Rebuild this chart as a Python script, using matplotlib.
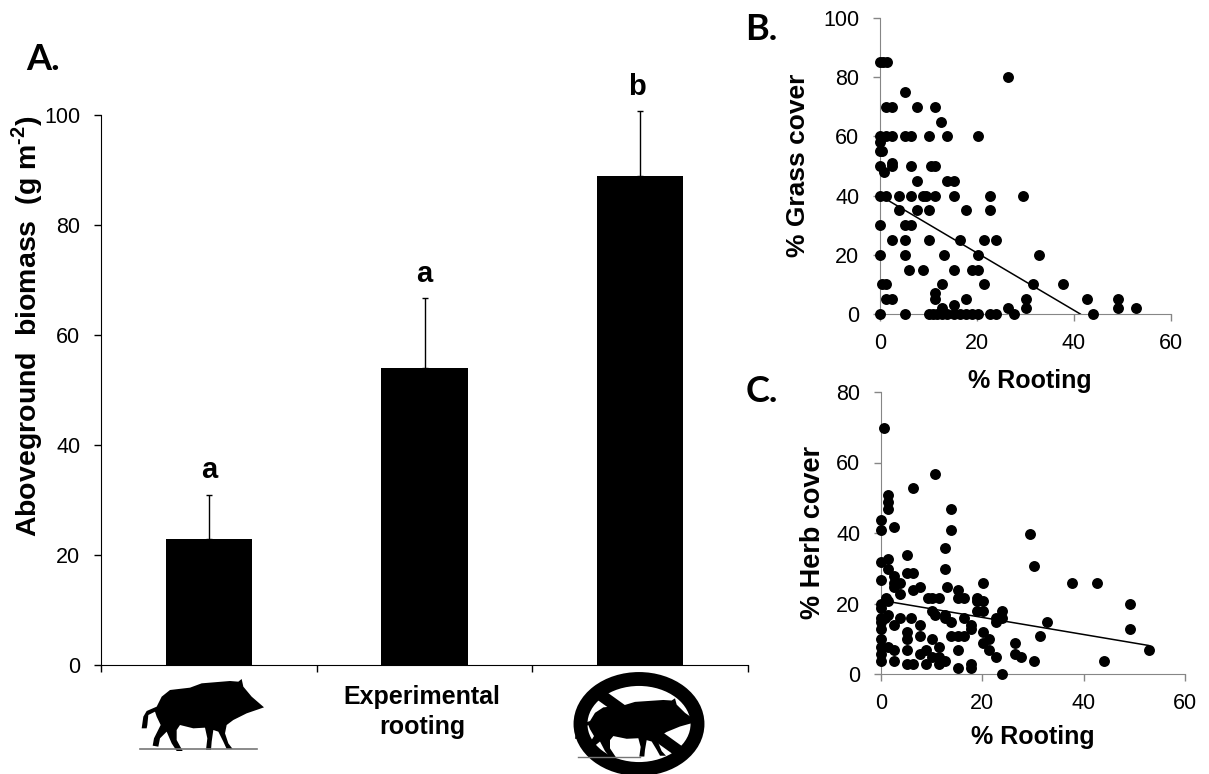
import numpy as np
import matplotlib
matplotlib.use('Agg')
import matplotlib.pyplot as plt
from matplotlib.patches import Polygon, Ellipse

plt.rcParams['font.family'] = ['Liberation Sans', 'DejaVu Sans']
plt.rcParams['mathtext.fontset'] = 'custom'
plt.rcParams['mathtext.bf'] = 'Liberation Sans:bold'
plt.rcParams['mathtext.rm'] = 'Liberation Sans:bold'

# panel A
bar_values = [23, 54, 89]
bar_errors = [8, 12.7, 11.7]
bar_letters = ['a', 'a', 'b']
bar_yticks = [0, 20, 40, 60, 80, 100]

# panel B, read row by row
grass_x = [0, 0.7, 1.5, 26.4, 5.1, 1.3, 2.5, 7.6, 11.4, 12.6,
           0, 1.3, 2.5, 5.1, 6.3, 10.1, 13.9, 20.2, 0, 0, 0.4,
           0, 2.5, 2.5, 6.3, 10.6, 11.4, 0.8, 7.6, 13.9, 15.2,
           0, 1.3, 3.9, 6.3, 8.9, 9.4, 11.4, 15.2, 22.6, 29.5,
           3.9, 7.6, 10.1, 17.7, 22.6, 0, 5.1, 6.3,
           2.5, 5.1, 10.1, 16.4, 21.4, 23.9, 0, 5.1, 13.1, 20.2, 32.8,
           5.9, 8.9, 15.2, 18.9, 20.2, 0.5, 1.3, 12.7, 21.4, 31.5, 37.7,
           11.4, 1.3, 2.5, 11.4, 17.7, 30.2, 42.7, 49, 15.2, 12.7,
           26.4, 30.2, 49, 52.8,
           0, 5.1, 10.1, 10.9, 11.8, 12.7, 13.9, 15.2, 16.4, 17.7, 18.9, 20.2,
           22.6, 23.9, 27.7, 44]
grass_y = [85, 85, 85, 80, 75, 70, 70, 70, 70, 65,
           60, 60, 60, 60, 60, 60, 60, 60, 58, 55, 55,
           50, 50, 51, 50, 50, 50, 48, 45, 45, 45,
           40, 40, 40, 40, 40, 40, 40, 40, 40, 40,
           35, 35, 35, 35, 35, 30, 30, 30,
           25, 25, 25, 25, 25, 25, 20, 20, 20, 20, 20,
           15, 15, 15, 15, 15, 10, 10, 10, 10, 10, 10,
           7, 5, 5, 5, 5, 5, 5, 5, 3, 2,
           2, 2, 2, 2,
           0, 0, 0, 0, 0, 0, 0, 0, 0, 0, 0, 0,
           0, 0, 0, 0]
grass_line_x = [0, 41.3]
grass_line_y = [40, 0]

# panel C
herb_x = [0.5, 10.6, 6.3, 1.3, 1.3, 1.3, 13.9, 0, 0, 2.6, 13.9, 29.4, 12.6, 5.1,
          1.3, 0, 1.3, 12.6, 30.2, 5.1, 6.3, 2.6, 0, 3.8, 2.6, 2.6, 20.2, 37.7, 42.7,
          7.6, 6.3, 13.1, 15.2, 3.8, 9.3, 10.1, 11.4, 15.2, 16.4, 18.9, 18.9, 20.2,
          0.9, 1.3, 0, 0, 49.1, 10.1, 10.6, 18.9, 20.2, 23.9, 12.6, 12.6, 1.3, 0, 0.7,
          3.8, 5.9, 16.4, 22.7, 23.9, 13.9, 22.7, 32.7, 0, 2.6, 7.6, 17.7, 17.7, 0, 49.1,
          5.1, 20.2, 13.9, 15.2, 16.4, 5.1, 7.6, 31.4, 0, 10.1, 21.4, 20.2, 26.4,
          0, 1.3, 11.4, 2.6, 5.1, 8.9, 15.2, 21.4, 0, 7.6, 26.4,
          10.1, 11.4, 22.7, 27.7, 0, 2.6, 12.6, 30.2, 44, 11.4, 5.1, 6.3, 8.9,
          17.7, 17.7, 15.2, 23.9, 52.8]
herb_y = [69.7, 56.6, 52.8, 50.7, 48.7, 46.7, 46.7, 43.8, 40.8, 41.7, 40.8, 39.7, 35.7, 33.8,
          32.7, 31.8, 29.9, 29.7, 30.7, 28.7, 28.7, 27.8, 26.8, 25.8, 25.8, 24.8, 25.8, 25.8, 25.8,
          24.8, 23.7, 24.8, 23.7, 22.8, 21.7, 21.7, 21.7, 21.7, 21.7, 21.7, 20.8, 20.8,
          21.7, 20.8, 19.8, 18.8, 19.8, 17.9, 16.8, 17.9, 17.9, 17.9, 16.8, 15.9, 16.8, 15.9, 15.9,
          15.9, 15.9, 15.9, 15.9, 15.9, 14.8, 14.8, 14.8, 14.8, 13.8, 13.8, 13.8, 12.8, 12.8, 12.8,
          11.8, 11.8, 10.8, 10.8, 10.8, 9.8, 10.8, 10.8, 9.8, 9.8, 9.8, 8.8, 8.8,
          7.8, 7.8, 7.8, 6.8, 6.8, 6.8, 6.8, 6.8, 5.8, 5.8, 5.8,
          4.8, 4.8, 4.8, 4.8, 3.7, 3.7, 3.7, 3.7, 3.7, 2.7, 2.7, 2.7, 2.7,
          2.7, 1.8, 1.8, 0, 6.8]
herb_line_x = [0, 52.8]
herb_line_y = [20.9, 8.1]

# boar outline, traced in pixels of a crop
boar = [(35, 160), (40, 125), (50, 108), (80, 95), (95, 65), (120, 45), (180, 38), (215, 25),
        (300, 18), (325, 20), (335, 12), (340, 35), (365, 65), (402, 97), (385, 103), (350, 115),
        (310, 135), (290, 150), (285, 175), (295, 205), (308, 222), (290, 222), (280, 200),
        (265, 170), (250, 165), (245, 200), (243, 225), (228, 225), (232, 190), (225, 158),
        (190, 160), (150, 150), (140, 165), (140, 195), (158, 228), (140, 228), (125, 205),
        (110, 170), (90, 190), (85, 215), (68, 212), (72, 190), (92, 150), (80, 125), (75, 110),
        (55, 120), (52, 150), (50, 160)]

W, H = 1209, 774


def ax_px(left, top, right, bottom):
    return fig.add_axes([left / W, 1 - bottom / H, (right - left) / W, (bottom - top) / H])


fig = plt.figure(figsize=(W / 100, H / 100), dpi=100)

# A
ax = ax_px(101, 115, 748, 665)
xpos = np.arange(3) + 0.5
ax.bar(xpos, bar_values, width=0.4, color='black')
ax.errorbar(xpos, bar_values, yerr=[[0, 0, 0], bar_errors], fmt='none', ecolor='black',
            elinewidth=1, capsize=2.5, capthick=1, clip_on=False)
for x, v, e, s in zip(xpos, bar_values, bar_errors, bar_letters):
    ax.text(x - (0.015 if s == 'b' else 0), v + e + 1.9, s, ha='center', va='bottom', fontsize=21,
            fontweight='bold', clip_on=False)
ax.set_xlim(0, 3)
ax.set_ylim(0, 100)
ax.set_xticks([0, 1, 2, 3])
ax.set_xticklabels([])
ax.set_yticks(bar_yticks)
ax.tick_params(axis='y', labelsize=15.5, length=5, width=1, pad=10)
ax.tick_params(axis='x', length=5, width=1)
ax.spines[['top', 'right']].set_visible(False)
fig.text(27 / W, 1 - 326 / H, 'Aboveground  biomass  (g m$^{\\mathbf{\u20102}}$)', rotation=90,
         ha='center', va='center', fontsize=20.5, fontweight='bold')
fig.text(422 / W, 1 - 712 / H, 'Experimental\nrooting', ha='center', va='center', fontsize=18,
         fontweight='bold', linespacing=1.3)


def scatter_panel(box, xs, ys, lx, ly, ymax, ystep):
    a = ax_px(*box)
    a.scatter(xs, ys, s=62, color='black', linewidths=0, clip_on=False, zorder=3)
    a.plot(lx, ly, color='black', lw=1.1, zorder=4)
    a.set_xlim(0, 60)
    a.set_ylim(0, ymax)
    a.set_xticks([0, 20, 40, 60])
    a.set_yticks(np.arange(0, ymax + 1, ystep))
    a.tick_params(labelsize=15.5, length=5, width=1, color='#868686', pad=10)
    a.tick_params(axis='x', pad=9)
    a.spines[['top', 'right']].set_visible(False)
    a.spines[['left', 'bottom']].set_color('#868686')
    a.patch.set_alpha(0)
    return a


scatter_panel((880, 18, 1171, 314), grass_x, grass_y, grass_line_x, grass_line_y, 100, 20)
scatter_panel((881, 392, 1185, 674), herb_x, herb_y, herb_line_x, herb_line_y, 80, 20)

for x, y, s, rot, size in [(1030, 381, '% Rooting', 0, 18), (798, 165, '% Grass cover', 90, 19),
                           (1033, 737, '% Rooting', 0, 18), (813, 532, '% Herb cover', 90, 19.5)]:
    fig.text(x / W, 1 - y / H, s, rotation=rot, ha='center', va='center', fontsize=size, fontweight='bold')

for x, y, s in [(43, 59, 'A.'), (761, 30, 'B.'), (762, 392, 'C.')]:
    fig.text(x / W, 1 - y / H, s, ha='center', va='center', fontsize=26, fontweight='bold',
             family=['Lato', 'DejaVu Sans'])

# icons, pixel overlay
ov = fig.add_axes([0, 0, 1, 1])
ov.set_xlim(0, W)
ov.set_ylim(H, 0)
ov.axis('off')
pts = np.array(boar, float)
ov.add_patch(Polygon(pts / 3 + [130, 675], closed=True, color='black', lw=0))
ov.plot([140, 257], [749, 749], color='#777777', lw=1.2)

ring_pts = np.column_stack([(pts[:, 0] - 5) / 3 + 565, (85 + (pts[:, 1] - 12) * 0.82) / 3 + 670])
ov.add_patch(Polygon(ring_pts, closed=True, color='black', lw=0))
ov.plot([578, 640], [757, 757], color='#777777', lw=1)
ov.plot([598, 680], [693, 752], color='black', lw=8.5, solid_capstyle='butt')
ov.add_patch(Ellipse((639, 724), 117, 90, fc='none', ec='black', lw=10))

fig.savefig('out.png', dpi=100)
